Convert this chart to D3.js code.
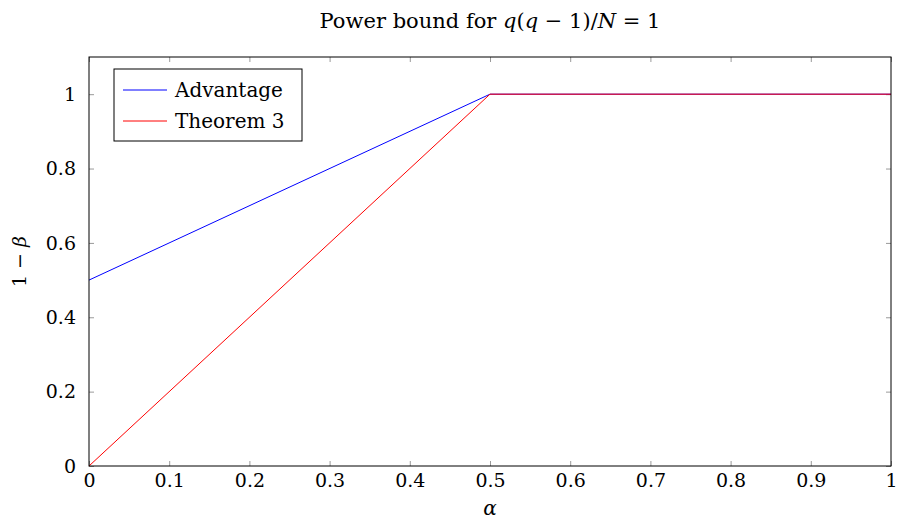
<!DOCTYPE html>
<html>
<head>
<meta charset="utf-8">
<script src="https://cdn.jsdelivr.net/npm/d3@7"></script>
<style>
body { margin: 0; background: #fff; }
text { font-family: "DejaVu Serif", serif; fill: #000; }
</style>
</head>
<body>
<div id="chart"></div>
<script>
var alphaAdv = [0, 0.5, 1];
var powerAdv = [0.5, 1, 1];
var alphaThm = [0, 0.5, 1];
var powerThm = [0, 1, 1];
var xTicks = [0, 0.1, 0.2, 0.3, 0.4, 0.5, 0.6, 0.7, 0.8, 0.9, 1];
var yTicks = [0, 0.2, 0.4, 0.6, 0.8, 1];
var seriesNames = ["Advantage", "Theorem 3"];
var seriesColors = ["#0000ff", "#ff0000"];

var width = 897, height = 521;
var margin = { left: 89, right: 6, top: 57, bottom: 55 };

var svg = d3.select("#chart").append("svg")
    .attr("width", width)
    .attr("height", height);

var x = d3.scaleLinear().domain([0, 1]).range([margin.left, width - margin.right]);
var y = d3.scaleLinear().domain([0, 1.1]).range([height - margin.bottom, margin.top]);

var fmt = function (d) { return d === 0 ? "0" : d === 1 ? "1" : d3.format(".1f")(d); };

// ticks on all four sides, pointing inward
function tickAxis(axis, tr) {
    var g = svg.append("g").attr("transform", tr).call(axis);
    g.select(".domain").remove();
    g.selectAll(".tick line").attr("stroke", "#808080").attr("stroke-width", 0.8);
    return g;
}
var tl = 5;
var gx = tickAxis(d3.axisBottom(x).tickValues(xTicks).tickSize(-tl).tickPadding(tl + 3).tickFormat(fmt),
    "translate(0," + y(0) + ")");
gx.selectAll("text").style("font-size", "19px");
var gy = tickAxis(d3.axisLeft(y).tickValues(yTicks).tickSize(-tl).tickPadding(tl + 8).tickFormat(fmt),
    "translate(" + x(0) + ",0)");
gy.selectAll("text").style("font-size", "19px");
tickAxis(d3.axisTop(x).tickValues(xTicks).tickSize(-tl).tickFormat(""), "translate(0," + y(1.1) + ")");
tickAxis(d3.axisRight(y).tickValues(yTicks).tickSize(-tl).tickFormat(""), "translate(" + x(1) + ",0)");

var line = d3.line()
    .x(function (d) { return x(d[0]); })
    .y(function (d) { return y(d[1]); });

var series = [d3.zip(alphaAdv, powerAdv), d3.zip(alphaThm, powerThm)];
series.forEach(function (s, i) {
    svg.append("path")
        .datum(s)
        .attr("d", line)
        .attr("fill", "none")
        .attr("stroke", seriesColors[i])
        .attr("stroke-width", 1);
});

// frame
svg.append("rect")
    .attr("x", x(0)).attr("y", y(1.1))
    .attr("width", x(1) - x(0)).attr("height", y(0) - y(1.1))
    .attr("fill", "none").attr("stroke", "#000").attr("stroke-width", 1);

// legend
var lg = svg.append("g").attr("transform", "translate(114,69)");
lg.append("rect").attr("width", 188).attr("height", 72)
    .attr("fill", "#fff").attr("stroke", "#000").attr("stroke-width", 1);
seriesNames.forEach(function (name, i) {
    var yy = 21 + i * 31;
    lg.append("line").attr("x1", 9).attr("x2", 53).attr("y1", yy).attr("y2", yy)
        .attr("stroke", seriesColors[i]).attr("stroke-width", 1);
    lg.append("text").attr("x", 61).attr("y", yy + 7).style("font-size", "20px").text(name);
});

// title
var title = svg.append("text")
    .attr("x", (x(0) + x(1)) / 2).attr("y", 28)
    .attr("text-anchor", "middle").style("font-size", "21px");
title.append("tspan").text("Power bound for ");
title.append("tspan").style("font-style", "italic").text("q");
title.append("tspan").text("(");
title.append("tspan").style("font-style", "italic").text("q");
title.append("tspan").text(" − 1)/");
title.append("tspan").style("font-style", "italic").text("N");
title.append("tspan").text(" = 1");

// axis labels
svg.append("text")
    .attr("x", (x(0) + x(1)) / 2).attr("y", 515)
    .attr("text-anchor", "middle").style("font-size", "20px").style("font-style", "italic")
    .text("α");
var yl = svg.append("text")
    .attr("transform", "translate(26," + y(0.55) + ") rotate(-90)")
    .attr("text-anchor", "middle").style("font-size", "19px");
yl.append("tspan").text("1 − ");
yl.append("tspan").style("font-style", "italic").text("β");
</script>
</body>
</html>
